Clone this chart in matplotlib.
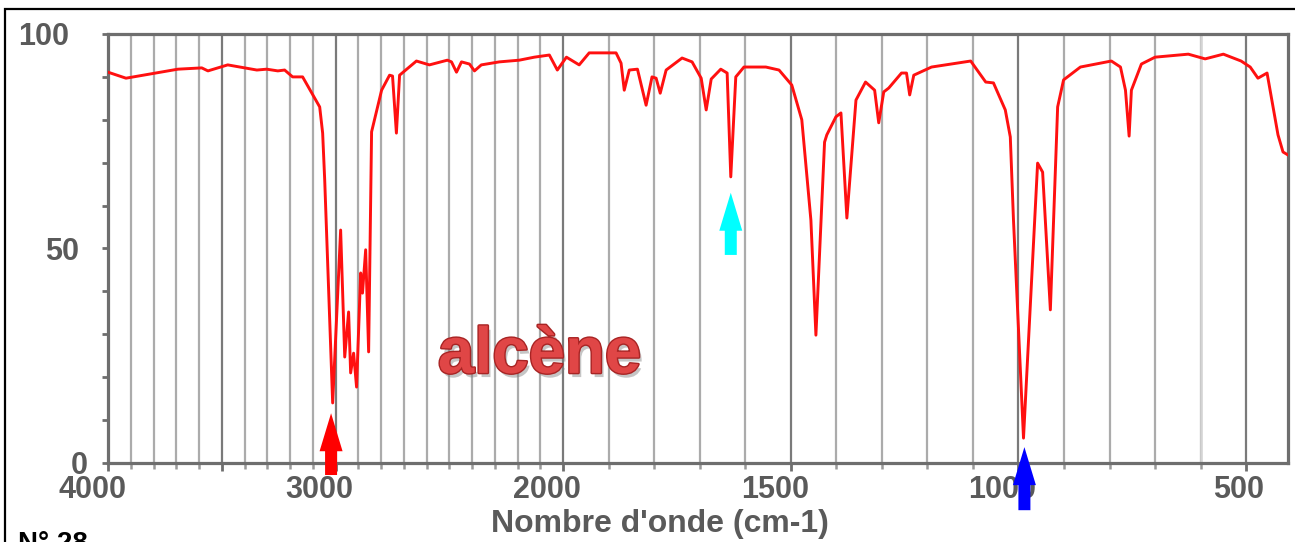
import numpy as np
import matplotlib
matplotlib.use("Agg")
import matplotlib.pyplot as plt
from matplotlib.transforms import ScaledTranslation
from matplotlib.patches import Rectangle
import matplotlib.patheffects as pe

# ---- data ----
wavenumber = [4000, 3921, 3693, 3588, 3561, 3474, 3346, 3303, 3254, 3224, 3189, 3145,
              3070, 3057, 3048, 3013, 2978, 2960, 2943, 2934, 2921, 2908, 2890, 2882,
              2868, 2855, 2842, 2798, 2763, 2750, 2733, 2719, 2645, 2588, 2509, 2491,
              2469, 2447, 2412, 2390, 2360, 2281, 2193, 2127, 2061, 2026, 1993, 1965,
              1943, 1884, 1873, 1866, 1855, 1837, 1818, 1805, 1796, 1787, 1774, 1739,
              1717, 1697, 1686, 1675, 1654, 1640, 1632, 1621, 1603, 1555, 1526, 1498,
              1476, 1456, 1445, 1426, 1421, 1401, 1390, 1377, 1357, 1336, 1316, 1307,
              1296, 1285, 1257, 1246, 1239, 1230, 1191, 1105, 1072, 1055, 1029, 1018,
              1011, 989, 958, 947, 930, 914, 901, 864, 796, 776, 765, 757, 752, 730,
              700, 627, 590, 550, 511, 491, 474, 454, 430, 419, 408]
transmittance = [91.1, 89.7, 91.8, 92.1, 91.4, 92.8, 91.6, 91.8, 91.4, 91.6, 90.0, 90.0,
                 83.0, 76.9, 66.0, 14.0, 54.3, 24.7, 35.2, 21.0, 25.6, 17.7, 44.3, 39.6,
                 49.7, 25.9, 77.2, 86.9, 90.4, 90.2, 76.9, 90.4, 93.7, 92.8, 93.9, 93.5,
                 91.1, 93.5, 93.0, 91.4, 92.8, 93.5, 93.9, 94.6, 95.1, 91.6, 94.6, 92.8,
                 95.6, 95.6, 93.2, 86.9, 91.6, 91.8, 83.4, 90.0, 89.7, 86.2, 91.6, 94.4,
                 93.5, 89.7, 82.3, 89.5, 91.8, 90.9, 66.7, 90.0, 92.3, 92.3, 91.6, 88.1,
                 80.0, 56.6, 29.8, 74.8, 76.5, 80.7, 81.6, 57.1, 84.6, 88.8, 86.9, 79.3,
                 86.5, 87.4, 90.9, 90.9, 85.8, 90.4, 92.3, 93.7, 88.8, 88.6, 82.3, 76.0,
                 56.6, 5.8, 69.9, 67.8, 35.7, 83.0, 89.3, 92.3, 93.7, 92.3, 86.9, 76.2, 86.9, 93.0,
                 94.6, 95.3, 94.2, 95.3, 93.7, 92.3, 89.7, 90.9, 76.5, 72.5, 71.8]

x_tick_values = [4000, 3500, 3000, 2000, 1500, 1000, 500]
x_tick_labels = ["4000", "", "3000", "2000", "1500", "1000", "500"]
y_tick_values = [0, 50, 100]
y_tick_labels = ["0", "50", "100"]

# arrows: (wavenumber, tip T, tail T, colour)
arrow_x = [3020, 1632, 987]
arrow_tip = [11.6, 63.0, 3.7]
arrow_tail = [-2.8, 48.5, -11.0]
arrow_colors = ["#ff0000", "#00ffff", "#0000ff"]

annotation_text = "alcène"
annotation_pos = (2105, 21.0)


# piecewise scale: above 2000 cm-1 compressed by factor 2
def fwd(w):
    w = np.asarray(w, dtype=float)
    return np.where(w > 2000, 2000 + (w - 2000) / 2.0, w)


def inv(u):
    u = np.asarray(u, dtype=float)
    return np.where(u > 2000, 2000 + (u - 2000) * 2.0, u)


W, H = 1295, 542
fig = plt.figure(figsize=(W / 100, H / 100), dpi=100)
fig.patch.set_facecolor("white")
ax = fig.add_axes([108 / W, 79 / H, 1180 / W, 429 / H])
ax.set_xscale("function", functions=(fwd, inv))
ax.set_xlim(4000, 408)
ax.set_ylim(0, 100)

ax.plot(wavenumber, transmittance, color="#ff1010", lw=2.1, zorder=3,
        solid_joinstyle="round")

# ticks
minor_x = [v for v in range(500, 4000, 100) if v not in x_tick_values]
ax.set_xticks(x_tick_values)
ax.set_xticklabels(x_tick_labels)
ax.set_xticks(minor_x, minor=True)
ax.set_yticks(y_tick_values)
ax.set_yticklabels(y_tick_labels)
ax.set_yticks([v for v in range(10, 100, 10) if v != 50], minor=True)

grey_txt = "#5a5a5a"
ax.tick_params(axis="x", which="major", direction="out", length=6, width=2,
               color="#6e6e6e", pad=3, labelsize=22, labelcolor=grey_txt)
ax.tick_params(axis="x", which="minor", direction="out", length=4.5, width=1.8,
               color="#9a9a9a")
ax.tick_params(axis="y", which="both", direction="out", length=4.5, width=2,
               color="#6e6e6e", pad=14, labelsize=22, labelcolor=grey_txt)

for lab in ax.get_xticklabels() + ax.get_yticklabels():
    lab.set_fontfamily("Liberation Sans")
    lab.set_fontweight("bold")

for lab in ax.get_xticklabels():
    lab.set_ha("right")
    lab.set_transform(lab.get_transform() + ScaledTranslation(18 / 100, 0, fig.dpi_scale_trans))

y_offsets = {"0": 5, "50": -3, "100": -13}
for lab in ax.get_yticklabels():
    dx = y_offsets.get(lab.get_text(), 0)
    lab.set_transform(lab.get_transform() + ScaledTranslation(dx / 100, 0, fig.dpi_scale_trans))

# grid
ax.grid(True, axis="x", which="major", color="#7a7a7a", lw=1.6, zorder=1)
ax.grid(True, axis="x", which="minor", color="#ababab", lw=1.6, zorder=1)
ax.axvline(600, color="#d4d4d4", lw=1.8, zorder=1.5)
ax.set_axisbelow(True)

for s in ax.spines.values():
    s.set_color("#6e6e6e")
    s.set_linewidth(2.3)

ax.set_xlabel("Nombre d'onde (cm-1)", fontsize=23, fontweight="bold",
              family="Liberation Sans", color=grey_txt)
ax.xaxis.set_label_coords(0.468, -0.108)

# arrows
for xa, yt, yb, c in zip(arrow_x, arrow_tip, arrow_tail, arrow_colors):
    ax.annotate("", xy=(xa, yt), xytext=(xa, yb), annotation_clip=False,
                arrowprops=dict(arrowstyle="simple,head_length=3.8,head_width=2.3,tail_width=1.2",
                                mutation_scale=7.2, facecolor=c, edgecolor=c, lw=0,
                                shrinkA=0, shrinkB=0),
                zorder=6)

# annotation text
ax.text(annotation_pos[0], annotation_pos[1], annotation_text, ha="center", va="baseline",
        fontsize=47, fontweight="bold", family="Liberation Sans", color="#e04646", zorder=5,
        path_effects=[pe.SimplePatchShadow(offset=(2, -3), shadow_rgbFace="#808080", alpha=0.45),
                      pe.Stroke(linewidth=2.0, foreground="#a82424"), pe.Normal()])

# outer frame and cut-off caption
fig.patches.append(Rectangle((5 / W, -0.2), 1.2, (H - 9) / H + 0.2, transform=fig.transFigure,
                             fill=False, edgecolor="black", lw=1.6, clip_on=False))
fig.text(18 / W, (H - 531) / H, "N° 28", ha="left", va="top", fontsize=20,
         fontweight="bold", family="Liberation Sans", color="black")

fig.savefig("out.png", dpi=100, facecolor="white")
